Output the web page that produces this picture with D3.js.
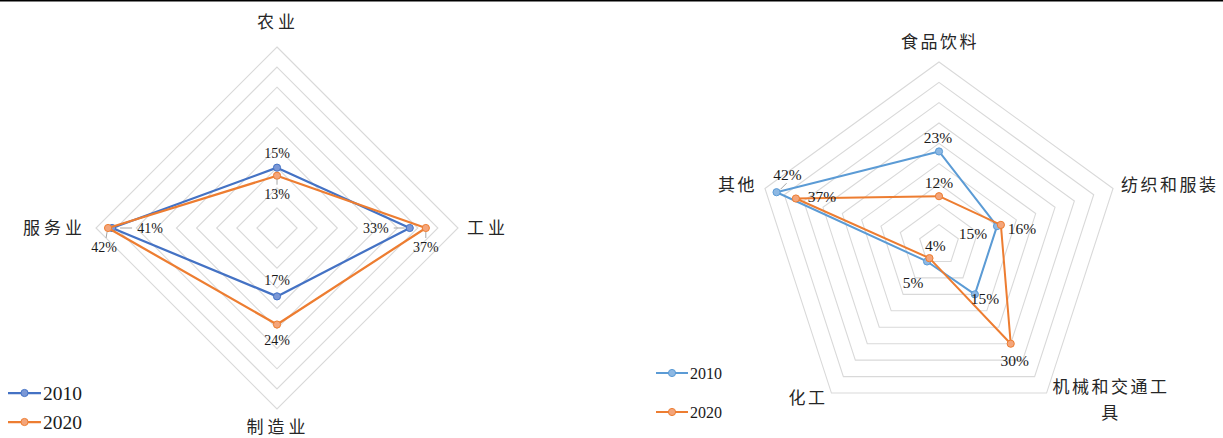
<!DOCTYPE html>
<html>
<head>
<meta charset="utf-8">
<script src="https://cdn.jsdelivr.net/npm/d3@7"></script>
<style>
  html, body { margin: 0; padding: 0; background: #fff; }
  svg { display: block; }
</style>
</head>
<body>
<svg id="chart" width="1223" height="438"></svg>
<script>
// ---- Data: sector shares (%) ----
const years = ["2010", "2020"];

const sectorAxes = ["农业", "工业", "制造业", "服务业"];
const sector2010 = [15, 33, 17, 41];
const sector2020 = [13, 37, 24, 42];

const industryAxes = ["食品饮料", "纺织和服装", "机械和交通工具", "化工", "其他"];
const industry2010 = [23, 15, 15, 5, 42];
const industry2020 = [12, 16, 30, 4, 37];

const radarMax = 45;
const ringTicks = [5, 10, 15, 20, 25, 30, 35, 40, 45];

// ---- Styling ----
const CJK = "'Noto Sans CJK SC', sans-serif";
const SERIF = "'Liberation Serif', 'Times New Roman', serif";
const gridColor = "#d9d9d9";

const svg = d3.select("#chart");

// thin rule across the top edge
svg.append("rect").attr("x", 0).attr("y", 0).attr("width", 1223).attr("height", 1.5).attr("fill", "#000");

function drawRadar(cfg) {
  const n = cfg.axes.length;
  const g = svg.append("g").attr("transform", `translate(${cfg.cx},${cfg.cy})`);
  const r = d3.scaleLinear().domain([0, radarMax]).range([0, cfg.radius]);
  const angle = i => -Math.PI / 2 + (2 * Math.PI / n) * i;
  const pt = (v, i) => [r(v) * Math.cos(angle(i)), r(v) * Math.sin(angle(i))];

  // concentric polygon grid
  const ringLine = d3.line().curve(d3.curveLinearClosed);
  g.selectAll("path.ring").data(ringTicks).join("path")
    .attr("class", "ring")
    .attr("d", t => ringLine(d3.range(n).map(i => pt(t, i))))
    .attr("fill", "none").attr("stroke", gridColor).attr("stroke-width", 1.1);

  // category labels
  cfg.axes.forEach((name, i) => {
    const pos = cfg.axisLabelPos[i];
    const lines = cfg.axisLabelLines ? cfg.axisLabelLines[i] : [name];
    const t = g.append("text")
      .attr("x", pos[0]).attr("y", pos[1])
      .attr("text-anchor", pos[2])
      .attr("font-family", CJK).attr("font-size", cfg.axisFont)
      .attr("letter-spacing", cfg.axisSpacing)
      .attr("fill", "#262626");
    lines.forEach((ln, k) => {
      t.append("tspan").attr("x", pos[0]).attr("dy", k === 0 ? "0.35em" : cfg.axisFont * 1.55).text(ln);
    });
  });

  // series polygons + markers
  const line = d3.line().curve(d3.curveLinearClosed);
  cfg.series.forEach((s, si) => {
    const pts = s.values.map((v, i) => pt(v, i));
    g.append("path").attr("d", line(pts))
      .attr("fill", "none").attr("stroke", s.color).attr("stroke-width", cfg.lineWidth)
      .attr("stroke-linejoin", "round");
    g.selectAll(null).data(pts).join("circle")
      .attr("cx", d => d[0]).attr("cy", d => d[1]).attr("r", 3.6)
      .attr("fill", s.markerFill).attr("stroke", s.color).attr("stroke-width", 1);
  });

  // value labels with short leader lines
  cfg.series.forEach((s, si) => {
    s.values.forEach((v, i) => {
      const p = pt(v, i);
      const off = cfg.labelOffsets[si][i];
      const lx = p[0] + off[0], ly = p[1] + off[1];
      if (off[2]) {
        g.append("line")
          .attr("x1", p[0] + off[2][0]).attr("y1", p[1] + off[2][1])
          .attr("x2", p[0] + off[2][2]).attr("y2", p[1] + off[2][3])
          .attr("stroke", "#a6a6a6").attr("stroke-width", 1);
      }
      g.append("text")
        .attr("x", lx).attr("y", ly).attr("dy", "0.35em")
        .attr("text-anchor", "middle")
        .attr("font-family", SERIF).attr("font-size", cfg.valueFont)
        .attr("fill", "#1a1a1a")
        .text(v + "%");
    });
  });

  // legend
  cfg.series.forEach((s, si) => {
    const ly = cfg.legend.y[si];
    const lg = svg.append("g");
    lg.append("line").attr("x1", cfg.legend.x1).attr("x2", cfg.legend.x2)
      .attr("y1", ly).attr("y2", ly).attr("stroke", s.color).attr("stroke-width", cfg.lineWidth);
    lg.append("circle").attr("cx", (cfg.legend.x1 + cfg.legend.x2) / 2).attr("cy", ly).attr("r", 3.6)
      .attr("fill", s.markerFill).attr("stroke", s.color).attr("stroke-width", 1);
    lg.append("text").attr("x", cfg.legend.x2 + 2).attr("y", ly).attr("dy", "0.35em")
      .attr("font-family", SERIF).attr("font-size", cfg.legend.font).attr("fill", "#1a1a1a")
      .text(years[si]);
  });
}

// Left: sector structure (4 axes)
drawRadar({
  cx: 277, cy: 228, radius: 181,
  axes: sectorAxes,
  axisLabelPos: [[1, -206, "middle"], [190, 0, "start"], [1, 199, "middle"], [-191, 0, "end"]],
  axisFont: 17, axisSpacing: 4,
  valueFont: 14, lineWidth: 2.25,
  series: [
    { values: sector2010, color: "#4472C4", markerFill: "#7b98d6" },
    { values: sector2020, color: "#ED7D31", markerFill: "#f4a57a" }
  ],
  labelOffsets: [
    [[0, -15], [-34, 0, [-16, 0, -5, 0]], [0, -16], [38, 0, [8, 0, 20, 0]]],
    [[0, 18, [0, 3, 0, 9]], [0, 19, [0, 4, 0, 10]], [0, 16], [-4, 19, [-1, 4, -2, 10]]]
  ],
  legend: { x1: 8, x2: 41, y: [393, 422], font: 19.5 }
});

// Right: industry structure (5 axes)
drawRadar({
  cx: 939, cy: 245, radius: 183,
  axes: industryAxes,
  axisLabelLines: [["食品饮料"], ["纺织和服装"], ["机械和交通工", "具"], ["化工"], ["其他"]],
  axisLabelPos: [[1, -203, "middle"], [182, -60, "start"], [172, 142, "middle"], [-131, 153, "middle"], [-182, -60, "end"]],
  axisFont: 17, axisSpacing: 2.5,
  valueFont: 15.5, lineWidth: 2,
  series: [
    { values: industry2010, color: "#5B9BD5", markerFill: "#8db8e3" },
    { values: industry2020, color: "#ED7D31", markerFill: "#f4a57a" }
  ],
  labelOffsets: [
    [[-1, -14], [-24, 7], [10, 4], [-14, 21], [11, -18, [4, -3, 10, -9]]],
    [[0, -14], [21, 4], [4, 17], [6, -13], [26, -2]]
  ],
  legend: { x1: 656, x2: 688, y: [373, 412], font: 16 }
});
</script>
</body>
</html>
